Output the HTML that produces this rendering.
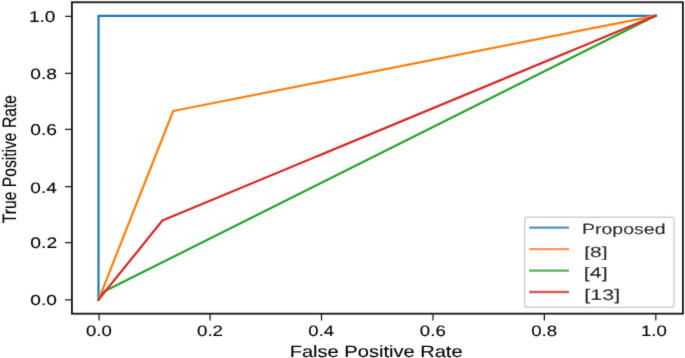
<!DOCTYPE html><html><head><meta charset="utf-8"><style>html,body{margin:0;padding:0;background:#fff;}svg{display:block;} text{font-family:"Liberation Sans",sans-serif;stroke:#000;stroke-width:0.12;text-rendering:geometricPrecision;}</style></head><body>
<svg width="685" height="358" viewBox="0 0 685 358">
<defs><filter id="b" x="0" y="0" width="685" height="358" filterUnits="userSpaceOnUse"><feConvolveMatrix order="3" kernelMatrix="0.01134 0.08382 0.01134 0.08382 0.61935 0.08382 0.01134 0.08382 0.01134" edgeMode="none"/></filter></defs>
<rect width="685" height="358" fill="#fff"/>
<g filter="url(#b)">
<polyline points="98.50,299.80 98.50,15.80 655.60,15.80" fill="none" stroke="#1f77b4" stroke-width="2.2" stroke-linejoin="round" stroke-linecap="square"/>
<polyline points="98.50,299.80 173.20,111.00 655.60,15.80" fill="none" stroke="#ff7f0e" stroke-width="2.2" stroke-linejoin="round" stroke-linecap="square"/>
<polyline points="98.50,299.80 104.00,291.50 655.60,15.80" fill="none" stroke="#2ca02c" stroke-width="2.2" stroke-linejoin="round" stroke-linecap="square"/>
<polyline points="98.50,299.80 162.40,220.50 655.60,15.80" fill="none" stroke="#d62728" stroke-width="2.2" stroke-linejoin="round" stroke-linecap="square"/>
<rect x="71.9" y="2.25" width="611.00" height="311.45" fill="none" stroke="#141414" stroke-width="1.8"/>
<path d="M65.1,299.90H71.90M65.1,242.60H71.90M65.1,186.60H71.90M65.1,129.40H71.90M65.1,73.40H71.90M65.1,16.30H71.90M99.10,313.70V320.4M210.10,313.70V320.4M321.50,313.70V320.4M433.00,313.70V320.4M544.40,313.70V320.4M655.80,313.70V320.4" stroke="#1a1a1a" stroke-width="1.25" fill="none"/>
<text transform="matrix(1.27735,0,0,0.96714,30.334,305.355)" font-size="15" fill="#000">0.0</text>
<text transform="matrix(1.28718,0,0,1.02347,30.328,248.446)" font-size="15" fill="#000">0.2</text>
<text transform="matrix(1.26768,0,0,1.00469,30.339,192.549)" font-size="15" fill="#000">0.4</text>
<text transform="matrix(1.19752,0,0,0.97711,30.334,135.444)" font-size="16" fill="#000">0.6</text>
<text transform="matrix(1.27735,0,0,0.98592,30.334,79.452)" font-size="15" fill="#000">0.8</text>
<text transform="matrix(1.19094,0,0,0.97711,28.876,22.444)" font-size="16" fill="#000">1.0</text>
<text transform="matrix(1.24173,0,0,1.00469,85.955,335.749)" font-size="15" fill="#000">0.0</text>
<text transform="matrix(1.25128,0,0,1.00469,196.949,335.749)" font-size="15" fill="#000">0.2</text>
<text transform="matrix(1.23232,0,0,1.00469,308.361,335.749)" font-size="15" fill="#000">0.4</text>
<text transform="matrix(1.24173,0,0,1.00469,419.855,335.749)" font-size="15" fill="#000">0.6</text>
<text transform="matrix(1.24173,0,0,1.00469,531.255,335.749)" font-size="15" fill="#000">0.8</text>
<text transform="matrix(1.24409,0,0,1.00469,640.907,335.749)" font-size="15" fill="#000">1.0</text>
<text transform="matrix(1.25442,0,0,1.02196,289.694,356.536)" font-size="16" fill="#000">False Positive Rate</text>
<text transform="matrix(0,-0.82383,1.02418,0,15.805,223.213)" font-size="19" fill="#000">True Positive Rate</text>
<rect x="524.7" y="217.2" width="149.3" height="90" rx="2.5" ry="2.5" fill="#fff" fill-opacity="0.8" stroke="#cfcfcf" stroke-width="1.4"/>
<path d="M529.2,227.6H569" stroke="#4592c8" stroke-width="2.3" fill="none"/>
<path d="M529.2,249.05H569" stroke="#fc9240" stroke-width="2.3" fill="none"/>
<path d="M529.2,270.6H569" stroke="#50b050" stroke-width="2.3" fill="none"/>
<path d="M529.2,292.0H569" stroke="#da4a4e" stroke-width="2.3" fill="none"/>
<text transform="matrix(1.30274,0,0,0.98582,581.937,233.895)" font-size="15" fill="#000">Proposed</text>
<text transform="matrix(1.40206,0,0,0.98582,584.228,256.995)" font-size="15" fill="#000">[8]</text>
<text transform="matrix(1.42955,0,0,1.00709,583.799,278.328)" font-size="15" fill="#000">[4]</text>
<text transform="matrix(1.43791,0,0,1.02128,584.190,299.983)" font-size="15" fill="#000">[13]</text>
</g>
</svg></body></html>
